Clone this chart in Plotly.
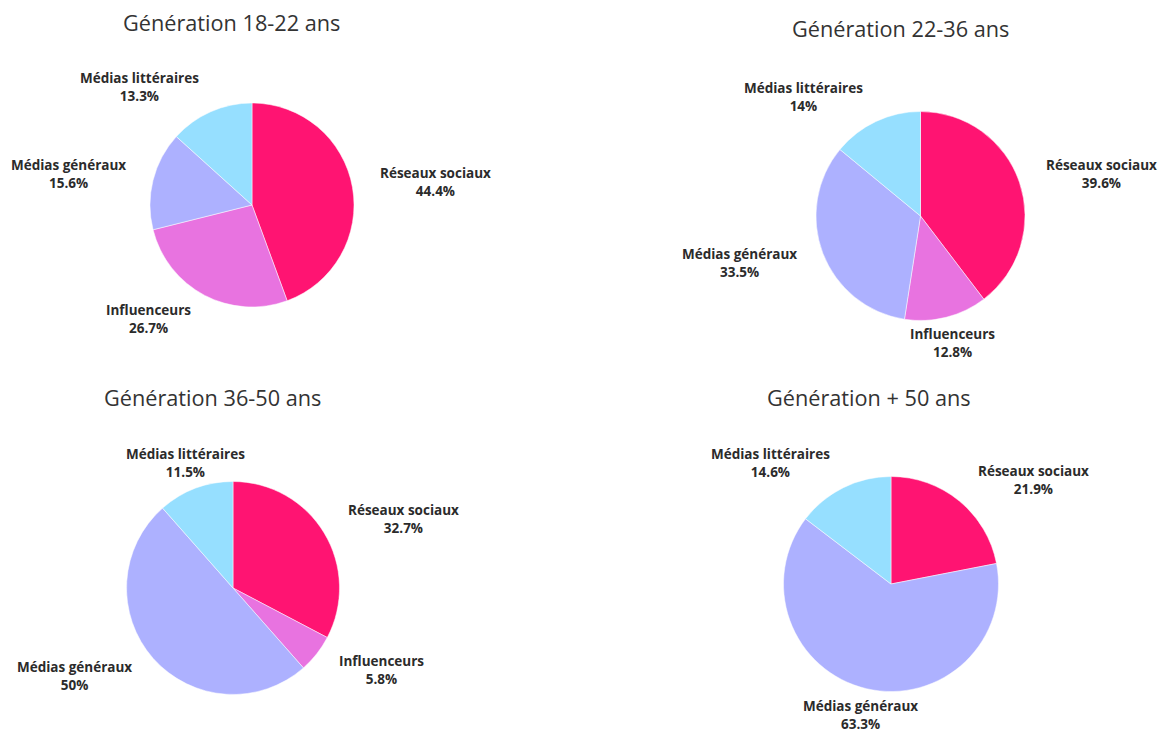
import math
import plotly.graph_objects as go

W, H = 1164, 731

titles = ["Génération 18-22 ans", "Génération 22-36 ans", "Génération 36-50 ans", "Génération + 50 ans"]

labels_1 = ["Réseaux sociaux", "Influenceurs", "Médias généraux", "Médias littéraires"]
values_1 = [44.4, 26.7, 15.6, 13.3]

labels_2 = ["Réseaux sociaux", "Influenceurs", "Médias généraux", "Médias littéraires"]
values_2 = [39.6, 12.8, 33.5, 14.0]

labels_3 = ["Réseaux sociaux", "Influenceurs", "Médias généraux", "Médias littéraires"]
values_3 = [32.7, 5.8, 50.0, 11.5]

labels_4 = ["Réseaux sociaux", "Médias généraux", "Médias littéraires"]
values_4 = [21.9, 63.3, 14.6]

color_map = {
    "Réseaux sociaux": "#FF1472",
    "Influenceurs": "#E873E0",
    "Médias généraux": "#ADB1FF",
    "Médias littéraires": "#96DFFF",
}

# pie centers / radii in pixels (layout)
geoms = [(252, 205, 102), (920.5, 216, 104.5), (233, 588, 106.5), (891, 584, 107.5)]
title_pos = [(231, 23), (900, 29), (212, 397), (869, 397)]
LABEL_GAP = 27          # distance of label anchor beyond the pie edge
SIDE_THRESHOLD = 0.38   # |sin| above which labels are left/right aligned

datasets = [(labels_1, values_1), (labels_2, values_2), (labels_3, values_3), (labels_4, values_4)]

fig = go.Figure()
for (labs, vals), (cx, cy, r) in zip(datasets, geoms):
    fig.add_trace(go.Pie(
        labels=labs,
        values=vals,
        textinfo="none",
        sort=False,
        direction="clockwise",
        rotation=0,
        marker=dict(colors=[color_map[l] for l in labs], line=dict(color="white", width=0.5)),
        automargin=False,
        showlegend=False,
        hoverinfo="label+percent",
        domain=dict(x=[(cx - r) / W, (cx + r) / W], y=[1 - (cy + r) / H, 1 - (cy - r) / H]),
    ))

    # outside labels, placed at each slice's mid-angle
    total = sum(vals)
    cum = 0.0
    R = r + LABEL_GAP
    for lab, v in zip(labs, vals):
        mid = 2 * math.pi * (cum + v / 2) / total
        cum += v
        s, c = math.sin(mid), math.cos(mid)
        px = cx + R * s
        py = cy - R * c
        if s > SIDE_THRESHOLD:
            xa = "left"
        elif s < -SIDE_THRESHOLD:
            xa = "right"
        else:
            xa = "center"
        fig.add_annotation(
            text=f"<b>{lab}</b><br><b>{v:g}%</b>",
            x=px / W, y=1 - py / H, xref="paper", yref="paper",
            xanchor=xa, yanchor="middle", align="center", showarrow=False,
            borderpad=0,
            font=dict(family="Open Sans", size=13.5, color="#2b2b2b"),
        )

for t, (tx, ty) in zip(titles, title_pos):
    fig.add_annotation(
        text=t, x=tx / W, y=1 - ty / H, xref="paper", yref="paper",
        xanchor="center", yanchor="middle", showarrow=False,
        font=dict(family="Open Sans", size=21.7, color="#333333"),
    )

fig.update_layout(
    width=W, height=H,
    margin=dict(l=0, r=0, t=0, b=0),
    paper_bgcolor="white",
    plot_bgcolor="white",
    font=dict(family="Open Sans"),
)

fig.write_html("out.html")
